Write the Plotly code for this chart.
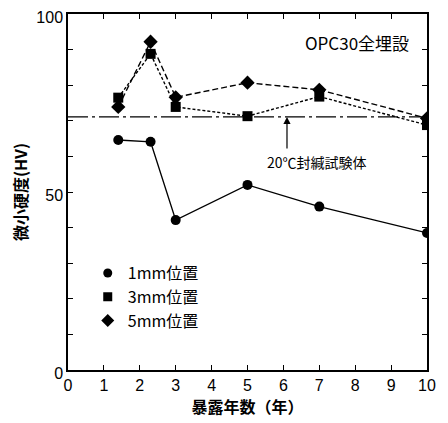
import plotly.graph_objects as go

years = [1.4, 2.3, 3, 5, 7, 10]
hv_1mm = [64.6, 64.1, 42.1, 52.0, 45.9, 38.5]
hv_3mm = [76.5, 88.8, 73.9, 71.3, 76.8, 68.8]
hv_5mm = [73.9, 92.2, 76.6, 80.7, 78.7, 70.7]
sealed_ref = 71.1

series_names = ["1mm位置", "3mm位置", "5mm位置"]
x_ticks = list(range(0, 11))
y_ticks = list(range(0, 101, 10))
y_tick_labels = ["0" if v == 0 else ("50" if v == 50 else ("100" if v == 100 else "")) for v in y_ticks]

FONT = "Liberation Sans, Noto Sans CJK JP, sans-serif"
CJK = "Noto Sans CJK JP, sans-serif"

fig = go.Figure()
styles = [
    (hv_1mm, "circle", 10, "solid"),
    (hv_3mm, "square", 10, "3px,2px"),
    (hv_5mm, "diamond", 11, "6px,3px"),
]
for (vals, sym, size, dash), name in zip(styles, series_names):
    fig.add_trace(go.Scatter(x=years, y=vals, mode="lines+markers",
                             line=dict(color="black", width=1.4, dash=dash),
                             marker=dict(symbol=sym, size=size, color="black"),
                             showlegend=False))
    fig.add_trace(go.Scatter(x=[None], y=[None], mode="markers", name=name,
                             marker=dict(symbol=sym, size=size - 1, color="black")))

fig.add_hline(y=sealed_ref, line=dict(color="black", width=1.2, dash="20px,4px,3px,4px"))

fig.add_annotation(x=6.1, y=sealed_ref, ax=6.1, ay=61.8, xref="x", yref="y", axref="x", ayref="y",
                   text="", showarrow=True, arrowhead=2, arrowsize=1.2, arrowwidth=1.2, arrowcolor="black")
fig.add_annotation(x=6.94, y=58.4, xref="x", yref="y", text="20℃封緘試験体", showarrow=False,
                   font=dict(family=CJK, size=14, color="black"))
fig.add_annotation(x=8.05, y=92.1, xref="x", yref="y", text="OPC30全埋設", showarrow=False,
                   font=dict(family=CJK, size=17, color="black"))

axis_common = dict(showline=True, linecolor="black", linewidth=1.5, mirror="ticks",
                   ticks="inside", ticklen=5, tickwidth=1.2, tickcolor="black",
                   showgrid=False, zeroline=False, automargin=False,
                   ticklabeloverflow="allow",
                   tickfont=dict(family=FONT, size=16, color="black"))
fig.update_xaxes(range=[0, 10], tickvals=x_ticks, **axis_common,
                 title=dict(text="<b>暴露年数（年）</b>", font=dict(family=CJK, size=16, color="black"), standoff=8))
fig.update_yaxes(range=[0, 100], tickvals=y_ticks, ticktext=y_tick_labels, **axis_common,
                 ticklabelshift=3,
                 title=dict(text="<b>微小硬度(HV)</b>", font=dict(family=CJK, size=16, color="black"), standoff=14))

fig.update_layout(
    width=440, height=415,
    margin=dict(l=60, r=21, t=6, b=53),
    paper_bgcolor="white", plot_bgcolor="white",
    legend=dict(x=0.055, y=0.32, xanchor="left", yanchor="top", bgcolor="rgba(0,0,0,0)",
                font=dict(family=CJK, size=16, color="black"), itemwidth=30,
                tracegroupgap=0),
)

fig.write_html("out.html")
